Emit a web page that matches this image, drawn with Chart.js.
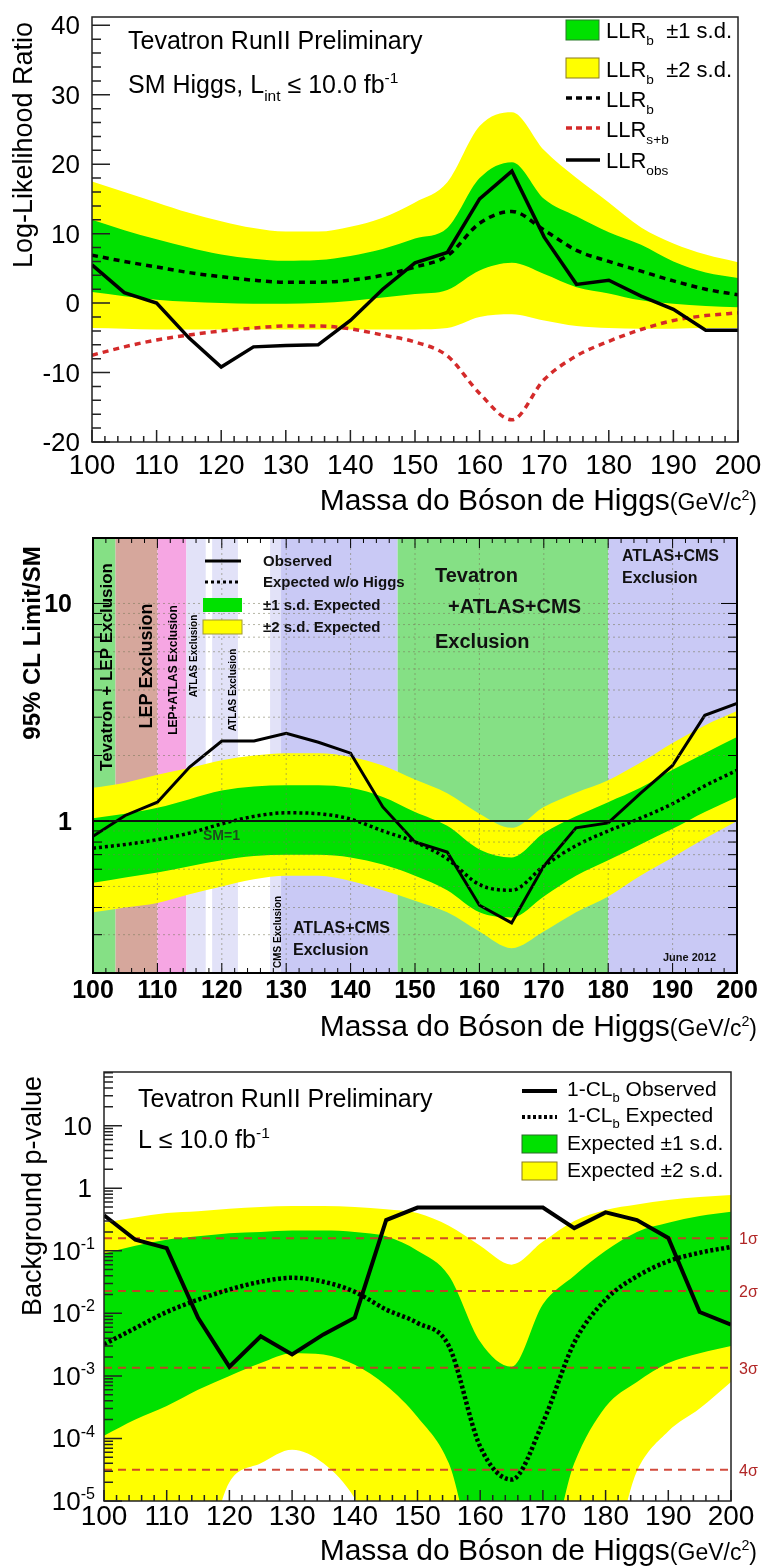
<!DOCTYPE html>
<html>
<head>
<meta charset="utf-8">
<script src="https://cdn.jsdelivr.net/npm/chart.js@4.4.1/dist/chart.umd.min.js"></script>
<style>
  html, body { margin: 0; padding: 0; background: #fff; }
  #wrap { position: relative; width: 762px; height: 1566px; overflow: hidden; }
  canvas { position: absolute; left: 0; }
</style>
</head>
<body>
<div id="wrap">
  <canvas id="llr" width="762" height="520" style="top:0px"></canvas>
  <canvas id="lim" width="762" height="525" style="top:520px"></canvas>
  <canvas id="pval" width="762" height="521" style="top:1045px"></canvas>
</div>
<script>
// ---------- data ----------
const masses = [100, 105, 110, 115, 120, 125, 130, 135, 140, 145, 150, 155, 160, 165, 170, 175, 180, 185, 190, 195, 200];

// Log-likelihood ratio
const llrObs = [5.5, 1.5, 0.0, -5.0, -9.2, -6.3, -6.1, -6.0, -2.5, 2.0, 5.8, 7.3, 15.0, 19.0, 9.5, 2.7, 3.3, 1.0, -0.9, -3.9, -3.9];
const llrB = [6.9, 6.0, 5.2, 4.4, 3.8, 3.3, 3.0, 3.0, 3.3, 4.0, 5.2, 6.8, 11.5, 13.2, 10.5, 7.6, 6.0, 4.6, 3.2, 2.0, 1.2];
const llrSB = [-7.5, -6.3, -5.3, -4.6, -4.0, -3.6, -3.3, -3.3, -3.7, -4.6, -5.6, -7.6, -13.0, -16.8, -11.0, -7.6, -5.5, -3.8, -2.5, -1.8, -1.4];
const llr1sUp = [12.0, 10.5, 9.2, 8.0, 7.0, 6.4, 6.1, 6.2, 6.8, 7.8, 9.3, 10.8, 18.0, 20.3, 15.0, 12.5, 10.2, 8.4, 6.0, 4.4, 3.6];
const llr1sDn = [1.6, 1.0, 0.5, 0.2, 0.0, -0.1, -0.1, 0.0, 0.3, 0.8, 1.3, 1.9, 4.7, 5.8, 4.2, 2.3, 1.4, 0.4, -0.1, -0.4, -0.6];
const llr2sUp = [17.5, 16.0, 14.5, 13.0, 11.8, 10.8, 10.3, 10.3, 11.0, 12.3, 14.5, 17.4, 25.5, 27.5, 22.0, 18.0, 14.5, 10.9, 8.6, 7.0, 5.9];
const llr2sDn = [-3.6, -3.7, -3.8, -3.8, -3.8, -3.8, -3.8, -3.8, -3.8, -3.8, -3.8, -3.6, -2.0, -1.6, -2.5, -3.3, -3.6, -3.7, -3.7, -3.6, -3.6];
const llrYTicks = [-20, -10, 0, 10, 20, 30, 40];

// 95% CL limit / SM
const limObs = [0.85, 1.06, 1.22, 1.77, 2.33, 2.33, 2.53, 2.30, 2.05, 1.16, 0.80, 0.72, 0.41, 0.34, 0.62, 0.93, 0.98, 1.34, 1.80, 3.06, 3.47];
const limExp = [0.75, 0.78, 0.82, 0.88, 0.97, 1.05, 1.09, 1.08, 1.02, 0.90, 0.80, 0.67, 0.51, 0.48, 0.62, 0.77, 0.90, 1.03, 1.20, 1.45, 1.71];
const lim1sUp = [1.03, 1.08, 1.15, 1.26, 1.38, 1.44, 1.46, 1.46, 1.42, 1.29, 1.10, 0.95, 0.74, 0.68, 0.88, 1.05, 1.22, 1.42, 1.72, 2.05, 2.43];
const lim1sDn = [0.52, 0.55, 0.58, 0.62, 0.66, 0.69, 0.70, 0.70, 0.68, 0.63, 0.56, 0.48, 0.38, 0.36, 0.45, 0.56, 0.66, 0.78, 0.92, 1.10, 1.29];
const lim2sUp = [1.42, 1.50, 1.63, 1.75, 1.90, 2.00, 2.05, 2.05, 1.97, 1.80, 1.55, 1.34, 1.08, 0.93, 1.16, 1.35, 1.54, 1.85, 2.28, 2.75, 3.20];
const lim2sDn = [0.38, 0.40, 0.42, 0.46, 0.50, 0.54, 0.56, 0.56, 0.53, 0.48, 0.43, 0.38, 0.31, 0.26, 0.31, 0.38, 0.45, 0.56, 0.68, 0.83, 1.00];
const limYTicks = [1, 10];
// excluded mass ranges (GeV) and which experiment excluded them
const exclFrom = [100, 103.5, 110, 114.5, 118.5, 127.5, 129.2, 147.3, 180];
const exclTo = [103.5, 110, 114.5, 117.5, 122.5, 129.2, 147.3, 180, 200];
const exclKind = ['tev', 'lep', 'lepatlas', 'atlas', 'atlas', 'cms', 'lhc', 'tev', 'lhc'];

// background p-value
const pObs = [0.37, 0.15, 0.11, 0.0085, 0.0014, 0.0043, 0.0022, 0.0046, 0.0085, 0.31, 0.49, 0.49, 0.49, 0.49, 0.49, 0.23, 0.41, 0.31, 0.16, 0.0105, 0.0066];
const pExp = [0.0032, 0.0058, 0.0105, 0.0165, 0.024, 0.032, 0.037, 0.032, 0.022, 0.0115, 0.007, 0.003, 7.4e-5, 2.2e-5, 1.8e-4, 0.0034, 0.0166, 0.039, 0.068, 0.093, 0.115];
const p1sUp = [0.09, 0.12, 0.15, 0.17, 0.19, 0.20, 0.21, 0.21, 0.20, 0.17, 0.10, 0.04, 0.0035, 0.0014, 0.014, 0.04, 0.10, 0.20, 0.28, 0.36, 0.42];
const p1sDn = [1.1e-4, 2e-4, 3.3e-4, 6e-4, 1e-3, 1.6e-3, 2.3e-3, 2.2e-3, 1.5e-3, 7e-4, 2.2e-4, 4e-5, 1e-6, 1e-6, 1e-6, 4e-5, 3.2e-4, 8e-4, 1.6e-3, 2.3e-3, 3e-3];
const p2sUp = [0.28, 0.34, 0.40, 0.43, 0.47, 0.50, 0.52, 0.52, 0.50, 0.46, 0.40, 0.25, 0.12, 0.06, 0.14, 0.30, 0.45, 0.55, 0.65, 0.72, 0.78];
const p2sDn = [1e-6, 1e-6, 1e-6, 1e-6, 2e-5, 4e-5, 6.6e-5, 4e-5, 1.1e-5, 1e-6, 1e-6, 1e-6, 1e-6, 1e-6, 1e-6, 1e-6, 1e-6, 3e-5, 1.3e-4, 3e-4, 8e-4];
const sigmaP = [0.1587, 0.02275, 0.00135, 3.17e-5];
const sigmaLabels = ['1', '2', '3', '4'];
const pYExp = [-5, -4, -3, -2, -1, 0, 1];

const massTicks = [100, 110, 120, 130, 140, 150, 160, 170, 180, 190, 200];

// ---------- styles ----------
const FAM = '"Liberation Sans", Arial, Helvetica, sans-serif';
const GREEN = '#00e100';
const YELLOW = '#ffff00';
const exclColor = { tev: '#85e085', lep: '#d6a79c', lepatlas: '#f6a6e3', atlas: '#e2e2f8', cms: '#e2e2f8', lhc: '#c9c9f5' };

Chart.defaults.font.family = FAM;

// ---------- text helpers ----------
function rich(ctx, x, y, parts, o) {
  const size = o.size, weight = o.weight || 'normal';
  const segs = parts.map(p => {
    const base = p.size || size;
    const s = (p.sub || p.sup) ? base * 0.62 : base;
    ctx.font = `${weight} ${s}px ${FAM}`;
    const dy = p.sub ? base * 0.3 : (p.sup ? -base * 0.42 : 0);
    return { t: p.t, s, dy, w: ctx.measureText(p.t).width };
  });
  const total = segs.reduce((a, b) => a + b.w, 0);
  let cx = o.align === 'right' ? x - total : (o.align === 'center' ? x - total / 2 : x);
  ctx.fillStyle = o.color || '#000';
  ctx.textAlign = 'left';
  ctx.textBaseline = 'alphabetic';
  segs.forEach(sg => {
    ctx.font = `${weight} ${sg.s}px ${FAM}`;
    ctx.fillText(sg.t, cx, y + sg.dy);
    cx += sg.w;
  });
}
function vrich(ctx, x, y, parts, o) {
  ctx.save();
  ctx.translate(x, y);
  ctx.rotate(-Math.PI / 2);
  rich(ctx, 0, 0, parts, Object.assign({}, o, { align: 'center' }));
  ctx.restore();
}
function massTitle(ctx, right, base) {
  rich(ctx, right, base, [
    { t: 'Massa do Bóson de Higgs' },
    { t: '(GeV/c', size: 23 }, { t: '2', sup: true, size: 23 }, { t: ')', size: 23 }
  ], { size: 30, align: 'right' });
}
function pts(ys) { return masses.map((m, i) => ({ x: m, y: ys[i] })); }
function band(data, fillTarget, color, order) {
  return { data: pts(data), fill: fillTarget, backgroundColor: color, borderColor: 'rgba(0,0,0,0)', borderWidth: 0, cubicInterpolationMode: 'monotone', order };
}
function edge(data, order) {
  return { data: pts(data), fill: false, borderColor: 'rgba(0,0,0,0)', borderWidth: 0, cubicInterpolationMode: 'monotone', order };
}
function baseOptions(pad, yScale) {
  return {
    responsive: false, animation: false, devicePixelRatio: 1,
    layout: { padding: pad },
    elements: { point: { radius: 0 }, line: { tension: 0 } },
    plugins: { legend: { display: false }, tooltip: { enabled: false } },
    scales: {
      x: { type: 'linear', min: 100, max: 200, display: false },
      y: Object.assign({ display: false }, yScale)
    }
  };
}

// ---------- Log-likelihood ratio ----------
const llrDecor = {
  id: 'llrDecor',
  afterDraw(chart) {
    const { ctx, chartArea: a, scales: { x, y } } = chart;
    ctx.save();
    ctx.strokeStyle = '#222'; ctx.lineWidth = 1.5;
    ctx.strokeRect(a.left, a.top, a.right - a.left, a.bottom - a.top);
    ctx.beginPath();
    for (let v = -20; v <= 40; v += 2) {
      const py = y.getPixelForValue(v);
      const len = v % 10 === 0 ? 18 : 9;
      ctx.moveTo(a.left, py); ctx.lineTo(a.left + len, py);
    }
    for (let m = 100; m <= 200; m += 2) {
      const px = x.getPixelForValue(m);
      const len = m % 10 === 0 ? 12 : 6;
      ctx.moveTo(px, a.bottom); ctx.lineTo(px, a.bottom - len);
    }
    ctx.stroke();
    llrYTicks.forEach(v => rich(ctx, 80, y.getPixelForValue(v) + 9, [{ t: String(v) }], { size: 26, align: 'right' }));
    massTicks.forEach(m => rich(ctx, x.getPixelForValue(m), 474, [{ t: String(m) }], { size: 28, align: 'center' }));
    massTitle(ctx, 757, 510);
    vrich(ctx, 32, 145, [{ t: 'Log-Likelihood Ratio' }], { size: 27 });
    rich(ctx, 128, 49, [{ t: 'Tevatron RunII Preliminary' }], { size: 25 });
    rich(ctx, 128, 93, [{ t: 'SM Higgs, L' }, { t: 'int', sub: true }, { t: ' ≤ 10.0 fb' }, { t: '-1', sup: true }], { size: 25 });
    // legend
    const lx = 566, tx = 606;
    ctx.lineWidth = 1;
    ctx.fillStyle = GREEN; ctx.fillRect(lx, 20, 33, 20); ctx.strokeStyle = '#2a7a2a'; ctx.strokeRect(lx, 20, 33, 20);
    ctx.fillStyle = YELLOW; ctx.fillRect(lx, 58, 33, 20); ctx.strokeStyle = '#8a7a20'; ctx.strokeRect(lx, 58, 33, 20);
    rich(ctx, tx, 38, [{ t: 'LLR' }, { t: 'b', sub: true }, { t: '  ±1 s.d.' }], { size: 22 });
    rich(ctx, tx, 77, [{ t: 'LLR' }, { t: 'b', sub: true }, { t: '  ±2 s.d.' }], { size: 22 });
    ctx.lineWidth = 3.5; ctx.setLineDash([6, 4]);
    ctx.strokeStyle = '#000'; ctx.beginPath(); ctx.moveTo(lx, 98); ctx.lineTo(lx + 34, 98); ctx.stroke();
    ctx.strokeStyle = '#d42a2a'; ctx.beginPath(); ctx.moveTo(lx, 128); ctx.lineTo(lx + 34, 128); ctx.stroke();
    ctx.setLineDash([]); ctx.strokeStyle = '#000'; ctx.beginPath(); ctx.moveTo(lx, 160); ctx.lineTo(lx + 34, 160); ctx.stroke();
    rich(ctx, tx, 107, [{ t: 'LLR' }, { t: 'b', sub: true }], { size: 22 });
    rich(ctx, tx, 137, [{ t: 'LLR' }, { t: 's+b', sub: true }], { size: 22 });
    rich(ctx, tx, 168, [{ t: 'LLR' }, { t: 'obs', sub: true }], { size: 22 });
    ctx.restore();
  }
};

new Chart(document.getElementById('llr'), {
  type: 'line',
  data: {
    datasets: [
      { data: pts(llrObs), borderColor: '#000', borderWidth: 3.5, fill: false, order: 0 },
      { data: pts(llrB), borderColor: '#000', borderWidth: 3.5, borderDash: [6, 5], fill: false, cubicInterpolationMode: 'monotone', order: 0 },
      { data: pts(llrSB), borderColor: '#d42a2a', borderWidth: 3.5, borderDash: [6, 5], fill: false, cubicInterpolationMode: 'monotone', order: 0 },
      band(llr1sUp, 4, GREEN, 1), edge(llr1sDn, 1),
      band(llr2sUp, 6, YELLOW, 2), edge(llr2sDn, 2)
    ]
  },
  options: baseOptions({ left: 92, right: 24, top: 17, bottom: 78 }, { type: 'linear', min: -20, max: 41.2 }),
  plugins: [llrDecor]
});

// ---------- 95% CL limit / SM ----------
const limBack = {
  id: 'limBack',
  beforeDatasetsDraw(chart) {
    const { ctx, chartArea: a, scales: { x } } = chart;
    ctx.save();
    exclFrom.forEach((m0, i) => {
      const x0 = x.getPixelForValue(m0), x1 = x.getPixelForValue(exclTo[i]);
      ctx.fillStyle = exclColor[exclKind[i]];
      ctx.fillRect(x0, a.top, x1 - x0, a.bottom - a.top);
    });
    ctx.restore();
  },
  afterDatasetsDraw(chart) {
    const { ctx, chartArea: a, scales: { x, y } } = chart;
    ctx.save();
    ctx.beginPath(); ctx.rect(a.left, a.top, a.right - a.left, a.bottom - a.top); ctx.clip();
    // dotted grid
    ctx.strokeStyle = 'rgba(120,120,90,0.55)'; ctx.lineWidth = 1; ctx.setLineDash([2, 3]);
    ctx.beginPath();
    massTicks.forEach(m => { const px = x.getPixelForValue(m); ctx.moveTo(px, a.top); ctx.lineTo(px, a.bottom); });
    [0.2, 0.3, 0.4, 0.5, 0.6, 0.7, 0.8, 0.9, 2, 3, 4, 5, 6, 7, 8, 9, 10, 20].forEach(v => {
      const py = y.getPixelForValue(v); ctx.moveTo(a.left, py); ctx.lineTo(a.right, py);
    });
    ctx.stroke();
    ctx.setLineDash([]);
    // SM = 1 reference
    ctx.strokeStyle = '#111'; ctx.lineWidth = 2;
    const p1 = y.getPixelForValue(1);
    ctx.beginPath(); ctx.moveTo(a.left, p1); ctx.lineTo(a.right, p1); ctx.stroke();
    ctx.restore();
  },
  afterDraw(chart) {
    const { ctx, chartArea: a, scales: { x, y } } = chart;
    ctx.save();
    ctx.strokeStyle = '#000'; ctx.lineWidth = 2;
    ctx.strokeRect(a.left, a.top, a.right - a.left, a.bottom - a.top);
    ctx.lineWidth = 1;
    ctx.beginPath();
    for (let m = 100; m <= 200; m += 2) {
      const px = x.getPixelForValue(m); const len = m % 10 === 0 ? 10 : 5;
      ctx.moveTo(px, a.bottom); ctx.lineTo(px, a.bottom - len);
      ctx.moveTo(px, a.top); ctx.lineTo(px, a.top + len);
    }
    [0.2, 0.3, 0.4, 0.5, 0.6, 0.7, 0.8, 0.9, 1, 2, 3, 4, 5, 6, 7, 8, 9, 10, 20].forEach(v => {
      const py = y.getPixelForValue(v); const len = (v === 1 || v === 10) ? 16 : 9;
      ctx.moveTo(a.left, py); ctx.lineTo(a.left + len, py);
      ctx.moveTo(a.right, py); ctx.lineTo(a.right - len, py);
    });
    ctx.stroke();
    limYTicks.forEach(v => rich(ctx, 72, y.getPixelForValue(v) + 9, [{ t: String(v) }], { size: 25, weight: 'bold', align: 'right' }));
    massTicks.forEach(m => rich(ctx, x.getPixelForValue(m), 478, [{ t: String(m) }], { size: 25, weight: 'bold', align: 'center' }));
    massTitle(ctx, 757, 516);
    vrich(ctx, 40, 123, [{ t: '95% CL Limit/SM' }], { size: 24, weight: 'bold' });
    // exclusion labels
    const lab = (t, cx, cy, s) => vrich(ctx, cx, cy, [{ t }], { size: s, weight: 'bold' });
    lab('Tevatron + LEP Exclusion', 112, 147, 17);
    lab('LEP Exclusion', 152, 146, 18);
    lab('LEP+ATLAS Exclusion', 177, 150, 12);
    lab('ATLAS Exclusion', 197, 136, 10);
    lab('ATLAS Exclusion', 236, 170, 10);
    lab('CMS Exclusion', 281, 412, 10);
    const blk = { size: 20, weight: 'bold', color: '#111' };
    rich(ctx, 435, 62, [{ t: 'Tevatron' }], blk);
    rich(ctx, 448, 93, [{ t: '+ATLAS+CMS' }], blk);
    rich(ctx, 435, 128, [{ t: 'Exclusion' }], blk);
    const blk2 = { size: 16, weight: 'bold', color: '#111' };
    rich(ctx, 622, 41, [{ t: 'ATLAS+CMS' }], blk2);
    rich(ctx, 622, 63, [{ t: 'Exclusion' }], blk2);
    rich(ctx, 293, 413, [{ t: 'ATLAS+CMS' }], blk2);
    rich(ctx, 293, 435, [{ t: 'Exclusion' }], blk2);
    rich(ctx, 203, 320, [{ t: 'SM=1' }], { size: 14, weight: 'bold', color: '#1e4a1e' });
    rich(ctx, 663, 441, [{ t: 'June 2012' }], { size: 11, weight: 'bold', color: '#111' });
    // legend
    ctx.strokeStyle = '#000'; ctx.lineWidth = 3;
    ctx.beginPath(); ctx.moveTo(205, 41); ctx.lineTo(241, 41); ctx.stroke();
    ctx.setLineDash([3, 3]); ctx.beginPath(); ctx.moveTo(205, 62); ctx.lineTo(241, 62); ctx.stroke(); ctx.setLineDash([]);
    ctx.fillStyle = GREEN; ctx.fillRect(203, 78, 39, 14);
    ctx.fillStyle = YELLOW; ctx.fillRect(203, 100, 39, 14);
    ctx.lineWidth = 1; ctx.strokeStyle = '#a09a30'; ctx.strokeRect(203, 100, 39, 14);
    const lg = { size: 15, weight: 'bold', color: '#111' };
    rich(ctx, 263, 46, [{ t: 'Observed' }], lg);
    rich(ctx, 263, 67, [{ t: 'Expected w/o Higgs' }], lg);
    rich(ctx, 263, 90, [{ t: '±1 s.d. Expected' }], lg);
    rich(ctx, 263, 112, [{ t: '±2 s.d. Expected' }], lg);
    ctx.restore();
  }
};

new Chart(document.getElementById('lim'), {
  type: 'line',
  data: {
    datasets: [
      { data: pts(limObs), borderColor: '#000', borderWidth: 3, fill: false, order: 0 },
      { data: pts(limExp), borderColor: '#000', borderWidth: 3.5, borderDash: [3, 3], fill: false, cubicInterpolationMode: 'monotone', order: 0 },
      band(lim1sUp, 3, GREEN, 1), edge(lim1sDn, 1),
      band(lim2sUp, 5, YELLOW, 2), edge(lim2sDn, 2)
    ]
  },
  options: baseOptions({ left: 93, right: 25, top: 18, bottom: 72 }, { type: 'logarithmic', min: 0.2, max: 20 }),
  plugins: [limBack]
});

// ---------- background p-value ----------
const pDecor = {
  id: 'pDecor',
  afterDraw(chart) {
    const { ctx, chartArea: a, scales: { x, y } } = chart;
    ctx.save();
    ctx.strokeStyle = '#222'; ctx.lineWidth = 1.5;
    ctx.strokeRect(a.left, a.top, a.right - a.left, a.bottom - a.top);
    ctx.beginPath();
    for (let e = -5; e <= 1; e++) {
      for (let k = 1; k <= 9; k++) {
        const v = k * Math.pow(10, e);
        if (v > y.max) continue;
        const py = y.getPixelForValue(v); const len = k === 1 ? 18 : 9;
        ctx.moveTo(a.left, py); ctx.lineTo(a.left + len, py);
      }
    }
    for (let m = 100; m <= 200; m += 2) {
      const px = x.getPixelForValue(m); const len = m % 10 === 0 ? 11 : 6;
      ctx.moveTo(px, a.bottom); ctx.lineTo(px, a.bottom - len);
    }
    ctx.stroke();
    pYExp.forEach(e => {
      const py = y.getPixelForValue(Math.pow(10, e)) + 9;
      if (e === 0) rich(ctx, 92, py, [{ t: '1' }], { size: 26, align: 'right' });
      else if (e === 1) rich(ctx, 92, py, [{ t: '10' }], { size: 26, align: 'right' });
      else rich(ctx, 95, py, [{ t: '10' }, { t: String(e), sup: true }], { size: 26, align: 'right' });
    });
    massTicks.forEach(m => rich(ctx, x.getPixelForValue(m), 480, [{ t: String(m) }], { size: 28, align: 'center' }));
    massTitle(ctx, 757, 515);
    vrich(ctx, 41, 151, [{ t: 'Background p-value' }], { size: 27 });
    sigmaP.forEach((p, i) => rich(ctx, 739, y.getPixelForValue(p) + 6, [{ t: sigmaLabels[i] + 'σ' }], { size: 16, color: '#b02525' }));
    rich(ctx, 138, 62, [{ t: 'Tevatron RunII Preliminary' }], { size: 25 });
    rich(ctx, 138, 103, [{ t: 'L ≤ 10.0 fb' }, { t: '-1', sup: true }], { size: 25 });
    // legend
    ctx.strokeStyle = '#000'; ctx.lineWidth = 4;
    ctx.beginPath(); ctx.moveTo(522, 46); ctx.lineTo(557, 46); ctx.stroke();
    ctx.setLineDash([3, 2.5]); ctx.beginPath(); ctx.moveTo(522, 72); ctx.lineTo(557, 72); ctx.stroke(); ctx.setLineDash([]);
    ctx.lineWidth = 1;
    ctx.fillStyle = GREEN; ctx.fillRect(522, 90, 35, 18); ctx.strokeStyle = '#2a6a2a'; ctx.strokeRect(522, 90, 35, 18);
    ctx.fillStyle = YELLOW; ctx.fillRect(522, 117, 35, 18); ctx.strokeStyle = '#8a7a20'; ctx.strokeRect(522, 117, 35, 18);
    const lg = { size: 21 };
    rich(ctx, 567, 51, [{ t: '1-CL' }, { t: 'b', sub: true }, { t: ' Observed' }], lg);
    rich(ctx, 567, 77, [{ t: '1-CL' }, { t: 'b', sub: true }, { t: ' Expected' }], lg);
    rich(ctx, 567, 105, [{ t: 'Expected ±1 s.d.' }], lg);
    rich(ctx, 567, 132, [{ t: 'Expected ±2 s.d.' }], lg);
    ctx.restore();
  }
};

const sigmaSets = sigmaP.map(p => ({
  data: [{ x: 100, y: p }, { x: 200, y: p }], borderColor: 'rgba(205,55,40,0.9)', borderWidth: 2, borderDash: [8, 6], fill: false, order: 1
}));

new Chart(document.getElementById('pval'), {
  type: 'line',
  data: {
    datasets: [
      { data: pts(pObs), borderColor: '#000', borderWidth: 4, fill: false, order: 0 },
      { data: pts(pExp), borderColor: '#000', borderWidth: 4.5, borderDash: [3, 2.5], fill: false, cubicInterpolationMode: 'monotone', order: 0 },
      band(p1sUp, 3, GREEN, 2), edge(p1sDn, 2),
      band(p2sUp, 5, YELLOW, 3), edge(p2sDn, 3),
      ...sigmaSets
    ]
  },
  options: baseOptions({ left: 104, right: 31, top: 27, bottom: 65 }, { type: 'logarithmic', min: 1e-5, max: 72 }),
  plugins: [pDecor]
});
</script>
</body>
</html>
